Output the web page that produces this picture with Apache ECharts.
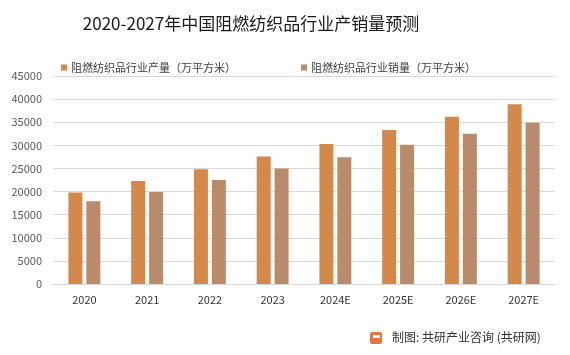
<!DOCTYPE html>
<html><head><meta charset="utf-8">
<script src="https://cdn.jsdelivr.net/npm/echarts@6/dist/echarts.min.js"></script>
<style>html,body{margin:0;padding:0;background:#fff;}#c{width:570px;height:355px;}</style>
</head><body><div id="c"></div>
<script>
var categories = ['2020','2021','2022','2023','2024E','2025E','2026E','2027E'];
var production = [19800, 22300, 24800, 27600, 30300, 33300, 36200, 38900];
var sales = [17900, 19900, 22500, 25000, 27400, 30100, 32500, 34900];
var yTicks = [0, 5000, 10000, 15000, 20000, 25000, 30000, 35000, 40000, 45000];
var chart = echarts.init(document.getElementById('c'));
var font = '"Noto Sans CJK SC", "Microsoft YaHei", sans-serif';
chart.setOption({
  animation: false,
  backgroundColor: '#fff',
  title: {
    text: '2020-2027年中国阻燃纺织品行业产销量预测',
    left: 246, top: 10, textAlign: 'center',
    textStyle: { fontFamily: font, fontSize: 17, fontWeight: 'normal', color: '#1a1a1a' }
  },
  legend: {
    top: 57, left: 56, itemWidth: 6, itemHeight: 6, itemGap: 65, icon: 'rect',
    textStyle: { fontFamily: font, fontSize: 11, color: '#404040', padding: [0,0,0,-1] },
    data: ['阻燃纺织品行业产量（万平方米）', '阻燃纺织品行业销量（万平方米）']
  },
  grid: { left: 53, right: 15, top: 76, bottom: 71, containLabel: false },
  xAxis: {
    type: 'category', data: categories,
    axisLine: { lineStyle: { color: '#d9d9d9' } },
    axisTick: { show: false },
    axisLabel: { fontFamily: font, fontSize: 11, color: '#333', margin: 10 }
  },
  yAxis: {
    type: 'value', min: yTicks[0], max: yTicks[yTicks.length-1], interval: yTicks[1]-yTicks[0],
    axisLine: { show: false }, axisTick: { show: false },
    splitLine: { lineStyle: { color: '#d9d9d9' } },
    axisLabel: { fontFamily: font, fontSize: 11, color: '#595959', margin: 11, formatter: function (v) { return String(v); } }
  },
  series: [
    { name: '阻燃纺织品行业产量（万平方米）', type: 'bar', data: production, barWidth: 14, barGap: '28%',
      itemStyle: { color: '#D4894A' } },
    { name: '阻燃纺织品行业销量（万平方米）', type: 'bar', data: sales, barWidth: 14,
      itemStyle: { color: '#B98B6A' } }
  ],
  graphic: [
    { type: 'rect', left: 370, top: 332, shape: { width: 12, height: 12, r: 2 }, style: { fill: '#E8743B' } },
    { type: 'rect', left: 373, top: 335, shape: { width: 7, height: 3 }, style: { fill: '#fff' } },
    { type: 'text', left: 392, top: 331, style: { text: '制图: 共研产业咨询 (共研网)', fontFamily: font, fontSize: 12, fill: '#333' } }
  ]
});
</script></body></html>
